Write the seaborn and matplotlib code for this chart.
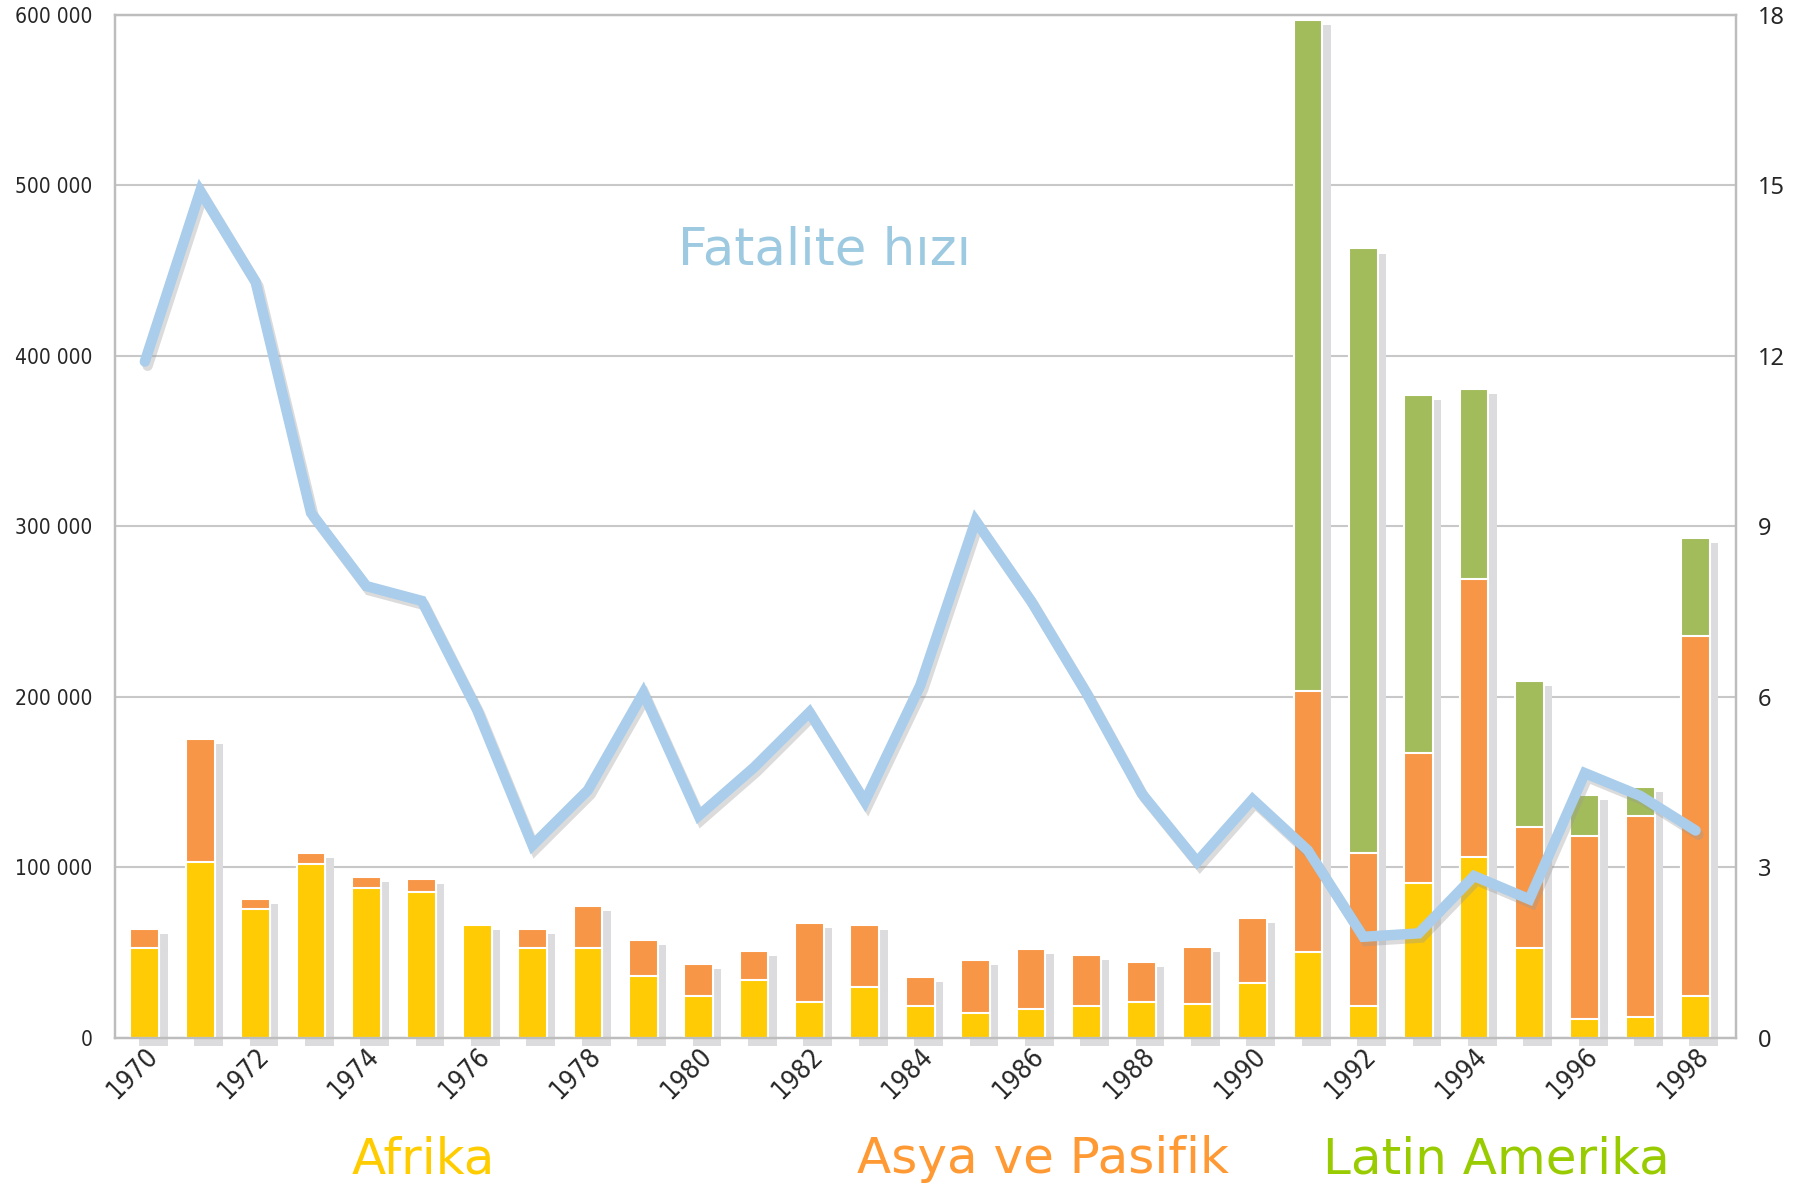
import matplotlib
matplotlib.use("Agg")
import matplotlib.pyplot as plt
import matplotlib.patheffects as pe
import matplotlib.transforms as mtransforms
import seaborn as sns
import numpy as np
import pandas as pd

# data
years = list(range(1970, 1999))
afrika = [52600, 103300, 75600, 102000, 88100, 85400, 66300, 52600, 52600, 36100,
          24800, 33700, 21200, 29800, 18500, 14600, 17200, 18500, 21100, 19700,
          32400, 50300, 18500, 90800, 106000, 52600, 11100, 12300, 24800]
asya = [11300, 71900, 6100, 6400, 6100, 7600, 0, 11300, 25000, 21400,
        18700, 17400, 46200, 36500, 17400, 31200, 35000, 30000, 23500, 33900,
        37800, 153200, 89900, 76100, 163000, 71200, 107400, 117700, 211200]
latin = [0, 0, 0, 0, 0, 0, 0, 0, 0, 0,
         0, 0, 0, 0, 0, 0, 0, 0, 0, 0,
         0, 393500, 354600, 210400, 111600, 85800, 24000, 17400, 57200]
fatalite = [11.9, 14.9, 13.3, 9.24, 7.95, 7.69, 5.77, 3.39, 4.36, 6.07,
            3.91, 4.76, 5.73, 4.16, 6.2, 9.1, 7.69, 6.07, 4.3, 3.1,
            4.2, 3.3, 1.78, 1.84, 2.85, 2.44, 4.66, 4.26, 3.65]

left_ticks = [0, 100000, 200000, 300000, 400000, 500000, 600000]
left_labels = ["0", "100 000", "200 000", "300 000", "400 000", "500 000", "600 000"]
right_ticks = [0, 3, 6, 9, 12, 15, 18]

YELLOW = "#fecb05"
ORANGE = "#f79646"
GREEN = "#a3bc5b"
SHADOW = "#dcdcde"
LINE = "#a9cdeb"
GRID = "#c8c8c8"

df = pd.DataFrame({"year": [str(y) for y in years], "afrika": afrika,
                   "asya": asya, "latin": latin, "fatalite": fatalite})
df["top_asya"] = df["afrika"] + df["asya"]
df["total"] = df["top_asya"] + df["latin"]
pos = np.arange(len(years))

sns.set_style("white")
plt.rcParams["font.family"] = ["DejaVu Sans"]

fig = plt.figure(figsize=(17.96, 11.91), dpi=100)
ax = fig.add_axes([0.064, 0.1285, 0.9026, 0.859])

bw = 0.52
# shadow bars behind the stack
ax.bar(pos + 0.15, df["total"] + 1700, bottom=-4700, width=bw, color=SHADOW,
       linewidth=0, zorder=1, clip_on=False)

sns.barplot(data=df, x="year", y="total", color=GREEN, width=bw, errorbar=None,
            saturation=1, edgecolor="white", linewidth=1.5, zorder=2, ax=ax)
sns.barplot(data=df, x="year", y="top_asya", color=ORANGE, width=bw, errorbar=None,
            saturation=1, edgecolor="white", linewidth=1.5, zorder=3, ax=ax)
sns.barplot(data=df, x="year", y="afrika", color=YELLOW, width=bw, errorbar=None,
            saturation=1, edgecolor="white", linewidth=1.5, zorder=4, ax=ax)

ax.set_xlim(-0.54, 28.73)
ax.set_ylim(0, 600000)
ax.set_yticks(left_ticks)
ax.set_yticklabels(left_labels, fontsize=15, fontstretch="condensed")
ax.set_xticks(pos)
ax.set_xticklabels([str(y) if y % 2 == 0 else "" for y in years], rotation=45,
                   ha="right", rotation_mode="anchor", fontsize=19,
                   fontstretch="condensed")
shift = mtransforms.ScaledTranslation(12 / 100, 0, fig.dpi_scale_trans)
for lab in ax.get_xticklabels():
    lab.set_transform(lab.get_transform() + shift)
ax.tick_params(axis="x", length=0, pad=4)
ax.tick_params(axis="y", length=0, pad=16)
ax.set_xlabel("")
ax.set_ylabel("")
ax.yaxis.grid(True, color=GRID, linewidth=1.5)
ax.set_axisbelow(True)
for s in ax.spines.values():
    s.set_color("#bdbdbd")
    s.set_linewidth(1.6)

ax2 = ax.twinx()
sns.lineplot(x=pos, y=df["fatalite"], color=LINE, linewidth=7.5, ax=ax2,
             solid_joinstyle="miter",
             path_effects=[pe.SimpleLineShadow(offset=(2, -3), shadow_color="#999999", alpha=0.35),
                           pe.Normal()])
ax2.set_ylim(0, 18)
ax2.set_yticks(right_ticks)
ax2.set_yticklabels([str(t) for t in right_ticks], family=["Noto Sans", "DejaVu Sans"],
                    fontsize=17)
ax2.tick_params(axis="y", length=0, pad=16)
ax2.set_ylabel("")
for s in ax2.spines.values():
    s.set_color("#bdbdbd")
    s.set_linewidth(1.6)

fig.text(825 / 1796, 1 - 250 / 1191, "Fatalite hızı", color="#9ecae1",
         fontsize=37, ha="center", va="center")
fig.text(423 / 1796, 1 - 1159 / 1191, "Afrika", color="#ffcc00",
         fontsize=36, ha="center", va="center")
fig.text(1043 / 1796, 1 - 1159 / 1191, "Asya ve Pasifik", color="#ff9933",
         fontsize=36, ha="center", va="center")
fig.text(1496 / 1796, 1 - 1159 / 1191, "Latin Amerika", color="#99cc00",
         fontsize=36, ha="center", va="center")

fig.savefig("out.png", dpi=100, facecolor="white")
